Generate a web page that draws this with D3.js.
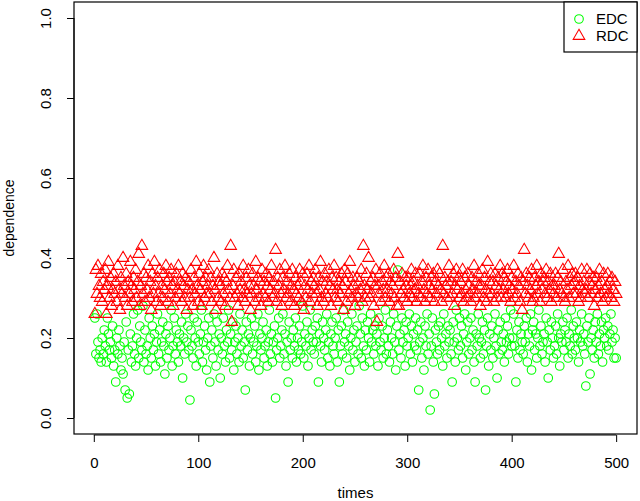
<!DOCTYPE html>
<html><head><meta charset="utf-8">
<script src="https://cdn.jsdelivr.net/npm/d3@7"></script>
<style>body{margin:0;background:#fff}svg{display:block}text{font-family:"Liberation Sans",Arial,sans-serif}</style>
</head><body>
<script>
const xTicks=[0,100,200,300,400,500];
const yTicks=[0,0.2,0.4,0.6,0.8,1.0];
const seriesNames=["EDC","RDC"];
const edc=[
0.25,0.16,0.26,0.19,0.15,0.17,0.14,0.20,0.16,0.22,
0.18,0.14,0.25,0.21,0.17,0.19,0.15,0.23,0.13,0.17,
0.09,0.20,0.16,0.22,0.18,0.12,0.15,0.11,0.19,0.07,
0.24,0.05,0.17,0.06,0.21,0.14,0.18,0.26,0.16,0.13,
0.20,0.27,0.15,0.23,0.19,0.17,0.28,0.14,0.22,0.16,
0.18,0.12,0.25,0.20,0.15,0.23,0.17,0.21,0.13,0.19,
0.26,0.16,0.22,0.14,0.19,0.24,0.18,0.11,0.21,0.15,
0.23,0.17,0.20,0.27,0.13,0.18,0.25,0.16,0.22,0.19,
0.14,0.21,0.18,0.24,0.10,0.20,0.16,0.26,0.19,0.23,
0.17,0.045,0.22,0.18,0.15,0.25,0.20,0.13,0.24,0.19,
0.16,0.21,0.27,0.14,0.19,0.23,0.17,0.12,0.20,0.25,
0.09,0.18,0.22,0.15,0.26,0.19,0.13,0.24,0.17,0.21,
0.10,0.20,0.16,0.25,0.18,0.14,0.22,0.19,0.27,0.15,
0.21,0.17,0.24,0.12,0.19,0.23,0.16,0.20,0.14,0.26,
0.18,0.22,0.15,0.19,0.07,0.24,0.17,0.21,0.13,0.20,
0.25,0.16,0.19,0.23,0.14,0.18,0.26,0.12,0.21,0.17,
0.20,0.24,0.15,0.18,0.22,0.13,0.19,0.27,0.16,0.21,
0.14,0.19,0.23,0.05,0.17,0.20,0.25,0.15,0.18,0.22,
0.26,0.16,0.21,0.13,0.19,0.09,0.24,0.17,0.20,0.15,
0.22,0.18,0.25,0.14,0.20,0.17,0.23,0.16,0.19,0.28,
0.15,0.21,0.18,0.24,0.13,0.20,0.27,0.17,0.22,0.19,
0.16,0.23,0.19,0.25,0.09,0.21,0.18,0.14,0.24,0.20,
0.17,0.22,0.26,0.15,0.19,0.13,0.21,0.24,0.18,0.16,
0.20,0.25,0.14,0.22,0.09,0.18,0.23,0.16,0.27,0.19,
0.21,0.15,0.24,0.18,0.12,0.20,0.26,0.17,0.22,0.14,
0.19,0.23,0.16,0.28,0.21,0.15,0.25,0.18,0.13,0.22,
0.17,0.24,0.20,0.14,0.26,0.19,0.22,0.16,0.23,0.18,
0.21,0.13,0.25,0.19,0.17,0.23,0.15,0.20,0.27,0.16,
0.22,0.18,0.14,0.24,0.20,0.16,0.26,0.19,0.12,0.23,
0.37,0.17,0.21,0.15,0.25,0.19,0.22,0.13,0.24,0.18,
0.20,0.26,0.16,0.23,0.14,0.21,0.18,0.25,0.17,0.22,
0.07,0.19,0.24,0.15,0.20,0.12,0.23,0.18,0.26,0.16,
0.21,0.02,0.18,0.25,0.14,0.06,0.22,0.19,0.16,0.23,
0.17,0.24,0.20,0.13,0.26,0.18,0.21,0.15,0.23,0.19,
0.22,0.16,0.09,0.24,0.19,0.14,0.27,0.20,0.17,0.25,
0.18,0.23,0.15,0.21,0.26,0.12,0.19,0.24,0.16,0.20,
0.25,0.17,0.22,0.14,0.09,0.21,0.18,0.26,0.20,0.15,
0.19,0.24,0.16,0.22,0.07,0.18,0.25,0.13,0.21,0.17,
0.23,0.15,0.20,0.26,0.18,0.10,0.22,0.16,0.24,0.19,
0.17,0.21,0.14,0.25,0.19,0.23,0.16,0.20,0.27,0.18,
0.20,0.26,0.18,0.09,0.22,0.15,0.24,0.17,0.21,0.19,
0.16,0.23,0.19,0.25,0.14,0.21,0.18,0.26,0.12,0.22,
0.24,0.17,0.21,0.15,0.20,0.27,0.18,0.23,0.16,0.19,
0.21,0.14,0.25,0.19,0.10,0.22,0.17,0.24,0.20,0.15,
0.18,0.23,0.16,0.26,0.20,0.13,0.21,0.19,0.24,0.17,
0.22,0.19,0.25,0.15,0.21,0.18,0.27,0.16,0.23,0.20,
0.17,0.24,0.20,0.14,0.22,0.19,0.26,0.18,0.21,0.16,
0.08,0.23,0.19,0.25,0.11,0.20,0.17,0.22,0.15,0.24,
0.19,0.26,0.16,0.21,0.18,0.24,0.14,0.22,0.20,0.25,
0.18,0.23,0.17,0.21,0.26,0.19,0.22,0.15,0.20,0.15];
const rdc=[
0.26,0.37,0.31,0.38,0.33,0.30,0.36,0.29,0.34,0.32,
0.37,0.26,0.33,0.39,0.30,0.35,0.28,0.32,0.36,0.31,
0.34,0.29,0.38,0.32,0.27,0.35,0.31,0.40,0.33,0.30,
0.36,0.28,0.34,0.31,0.39,0.33,0.29,0.35,0.32,0.37,
0.30,0.34,0.41,0.28,0.33,0.43,0.31,0.36,0.29,0.35,
0.32,0.38,0.30,0.34,0.27,0.36,0.31,0.39,0.33,0.29,
0.35,0.31,0.37,0.28,0.33,0.30,0.36,0.32,0.38,0.34,
0.29,0.35,0.31,0.37,0.33,0.28,0.34,0.30,0.36,0.32,
0.38,0.31,0.34,0.29,0.36,0.33,0.30,0.35,0.27,0.32,
0.34,0.30,0.37,0.32,0.28,0.35,0.31,0.39,0.33,0.29,
0.36,0.32,0.28,0.34,0.38,0.30,0.35,0.31,0.33,0.37,
0.31,0.35,0.29,0.33,0.40,0.32,0.27,0.36,0.30,0.34,
0.33,0.29,0.36,0.31,0.35,0.28,0.34,0.38,0.32,0.30,
0.43,0.24,0.33,0.37,0.30,0.35,0.31,0.28,0.36,0.32,
0.34,0.30,0.38,0.32,0.29,0.35,0.31,0.37,0.33,0.27,
0.31,0.36,0.33,0.29,0.39,0.32,0.35,0.30,0.34,0.28,
0.37,0.31,0.34,0.30,0.36,0.33,0.29,0.35,0.32,0.38,
0.30,0.34,0.31,0.42,0.29,0.35,0.33,0.37,0.31,0.28,
0.35,0.32,0.38,0.30,0.34,0.31,0.36,0.29,0.33,0.37,
0.32,0.28,0.35,0.31,0.33,0.30,0.37,0.34,0.29,0.36,
0.27,0.33,0.30,0.36,0.32,0.38,0.29,0.34,0.31,0.35,
0.33,0.37,0.31,0.28,0.35,0.32,0.39,0.30,0.34,0.29,
0.36,0.31,0.34,0.30,0.37,0.33,0.28,0.35,0.32,0.38,
0.30,0.35,0.32,0.29,0.34,0.31,0.36,0.33,0.27,0.37,
0.34,0.29,0.36,0.31,0.39,0.32,0.30,0.35,0.33,0.28,
0.31,0.35,0.30,0.34,0.32,0.37,0.29,0.43,0.33,0.30,
0.36,0.32,0.40,0.30,0.34,0.31,0.35,0.28,0.33,0.37,
0.24,0.33,0.31,0.36,0.29,0.34,0.32,0.38,0.30,0.35,
0.32,0.36,0.29,0.34,0.31,0.33,0.37,0.30,0.35,0.28,
0.41,0.28,0.34,0.31,0.36,0.32,0.30,0.35,0.33,0.29,
0.35,0.31,0.33,0.37,0.30,0.34,0.32,0.36,0.29,0.33,
0.31,0.36,0.30,0.34,0.38,0.32,0.29,0.35,0.31,0.37,
0.33,0.30,0.35,0.32,0.36,0.29,0.34,0.31,0.37,0.33,
0.36,0.32,0.29,0.43,0.31,0.35,0.33,0.30,0.34,0.38,
0.30,0.34,0.31,0.36,0.28,0.33,0.37,0.32,0.35,0.30,
0.34,0.31,0.37,0.29,0.35,0.32,0.30,0.36,0.33,0.31,
0.29,0.35,0.32,0.38,0.30,0.34,0.31,0.36,0.33,0.28,
0.33,0.37,0.30,0.35,0.32,0.29,0.39,0.31,0.34,0.36,
0.31,0.34,0.29,0.36,0.33,0.30,0.35,0.32,0.38,0.30,
0.36,0.32,0.35,0.30,0.34,0.37,0.31,0.33,0.29,0.35,
0.32,0.38,0.30,0.34,0.31,0.36,0.33,0.29,0.35,0.27,
0.34,0.42,0.31,0.36,0.33,0.30,0.35,0.32,0.37,0.29,
0.30,0.35,0.33,0.38,0.31,0.34,0.29,0.36,0.32,0.34,
0.35,0.31,0.37,0.30,0.34,0.32,0.36,0.29,0.33,0.31,
0.33,0.36,0.30,0.35,0.41,0.32,0.34,0.31,0.37,0.30,
0.29,0.34,0.32,0.38,0.30,0.35,0.33,0.36,0.31,0.34,
0.36,0.31,0.35,0.29,0.33,0.30,0.37,0.32,0.34,0.31,
0.32,0.37,0.30,0.34,0.36,0.31,0.33,0.35,0.28,0.32,
0.35,0.30,0.33,0.37,0.31,0.34,0.29,0.36,0.32,0.30,
0.33,0.36,0.31,0.34,0.30,0.35,0.32,0.29,0.34,0.31];
const colors=["#00ff00","#ff0000"];

const W=640,H=501;
const box={l:74,r:637,t:2,b:434};
const n=edc.length;
const x=d3.scaleLinear().domain([1-0.04*(n-1),n+0.04*(n-1)]).range([box.l,box.r]);
const y=d3.scaleLinear().domain([-0.04,1.04]).range([box.b,box.t]);

const svg=d3.select("body").append("svg").attr("width",W).attr("height",H);

const gx=svg.append("g").attr("transform",`translate(0,${box.b+1})`)
  .call(d3.axisBottom(x).tickValues(xTicks).tickSize(7).tickPadding(15).tickFormat(d3.format("d")));
gx.select(".domain").attr("d",`M${x(0)},0H${x(500)}`).attr("stroke","#000");
gx.selectAll("text").attr("font-size",15).attr("fill","#000");

const gy=svg.append("g").attr("transform",`translate(${box.l},0)`)
  .call(d3.axisLeft(y).tickValues(yTicks).tickSize(7).tickFormat(d3.format(".1f")));
gy.select(".domain").attr("d",`M0,${y(0)}V${y(1)}`).attr("stroke","#000");
gy.selectAll(".tick text").attr("font-size",15).attr("fill","#000")
  .attr("transform","rotate(-90)").attr("text-anchor","middle").attr("x",0).attr("y",-23).attr("dy","0");

svg.append("rect").attr("x",box.l).attr("y",box.t).attr("width",box.r-box.l).attr("height",box.b-box.t)
  .attr("fill","none").attr("stroke","#000").attr("stroke-width",1.2);

const plot=svg.append("g");
const tri=d3.symbol().type(d3.symbolTriangle).size(58);
plot.selectAll("circle.edc").data(edc).join("circle").attr("class","edc")
  .attr("cx",(d,i)=>x(i+1)).attr("cy",d=>y(d)).attr("r",4.3)
  .attr("fill","none").attr("stroke",colors[0]).attr("stroke-width",1.1);
plot.selectAll("path.rdc").data(rdc).join("path").attr("class","rdc")
  .attr("d",tri).attr("transform",(d,i)=>`translate(${x(i+1)},${y(d)})`)
  .attr("fill","none").attr("stroke",colors[1]).attr("stroke-width",1.1);

svg.append("text").attr("x",(box.l+box.r)/2).attr("y",498).attr("text-anchor","middle")
  .attr("font-size",15).text("times");
svg.append("text").attr("transform",`translate(14,${(box.t+box.b)/2}) rotate(-90)`)
  .attr("text-anchor","middle").attr("font-size",14).text("dependence");

const lg=svg.append("g");
lg.append("rect").attr("x",564).attr("y",box.t).attr("width",box.r-564).attr("height",50)
  .attr("fill","#fff").attr("stroke","#000").attr("stroke-width",1.2);
lg.append("circle").attr("cx",579).attr("cy",19).attr("r",4.3).attr("fill","none").attr("stroke",colors[0]).attr("stroke-width",1.1);
lg.append("path").attr("d",tri).attr("transform","translate(579,36)").attr("fill","none").attr("stroke",colors[1]).attr("stroke-width",1.1);
lg.selectAll("text.lab").data(seriesNames).join("text").attr("class","lab")
  .attr("x",596).attr("y",(d,i)=>24+i*17).attr("font-size",15).text(d=>d);
</script>
</body></html>
